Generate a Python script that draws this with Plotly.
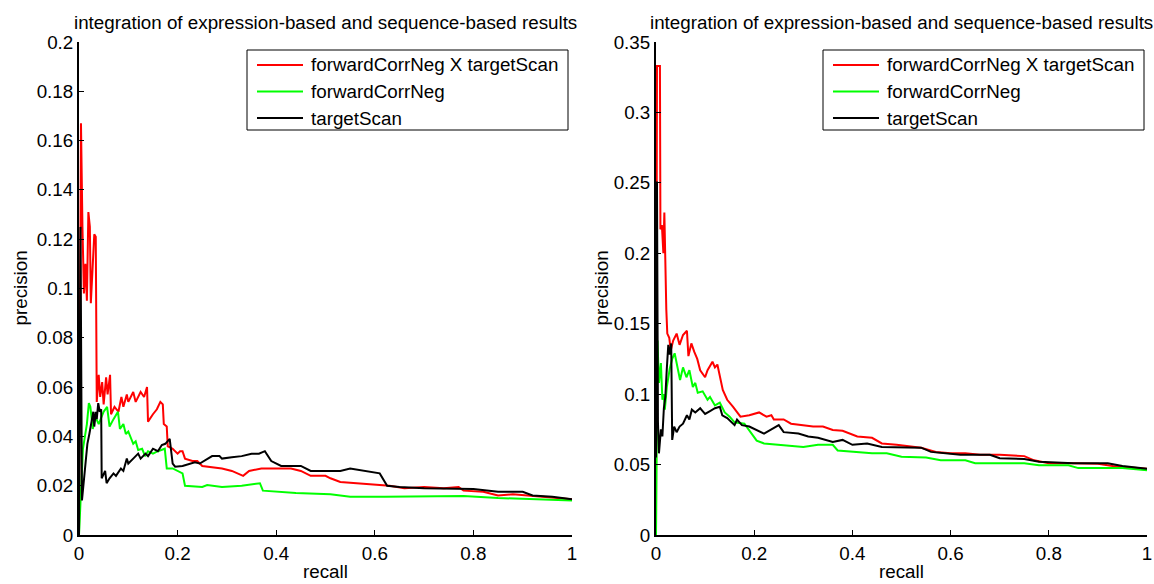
import plotly.graph_objects as go

# ---------------- left panel: precision vs recall ----------------
left_red_recall = [0, 0.004, 0.007, 0.010, 0.013, 0.016, 0.019, 0.022, 0.024, 0.028, 0.031, 0.034,
                   0.036, 0.040, 0.043, 0.047, 0.050, 0.055, 0.058, 0.063, 0.065, 0.072, 0.080, 0.086,
                   0.090, 0.097, 0.100, 0.110, 0.115, 0.125, 0.132, 0.138, 0.140, 0.150, 0.158, 0.165,
                   0.170, 0.172, 0.178, 0.180, 0.190, 0.200, 0.205, 0.210, 0.215, 0.230, 0.240, 0.250,
                   0.270, 0.290, 0.310, 0.333, 0.345, 0.370, 0.400, 0.430, 0.450, 0.470, 0.500, 0.510,
                   0.530, 0.570, 0.600, 0.630, 0.660, 0.700, 0.740, 0.770, 0.780, 0.820, 0.850, 0.880,
                   0.910, 0.940, 0.970, 1.0]
left_red_precision = [0, 0.167, 0.125, 0.098, 0.110, 0.095, 0.131, 0.125, 0.094, 0.108, 0.122, 0.121,
                      0.054, 0.065, 0.056, 0.062, 0.053, 0.064, 0.057, 0.065, 0.049, 0.052, 0.050, 0.056,
                      0.052, 0.057, 0.054, 0.058, 0.054, 0.058, 0.056, 0.060, 0.046, 0.049, 0.051, 0.054,
                      0.053, 0.045, 0.044, 0.036, 0.035, 0.033, 0.034, 0.034, 0.031, 0.030, 0.030, 0.028,
                      0.0275, 0.027, 0.026, 0.024, 0.026, 0.027, 0.027, 0.027, 0.026, 0.024, 0.024, 0.023,
                      0.0215, 0.021, 0.0205, 0.020, 0.019, 0.0195, 0.019, 0.0195, 0.018, 0.0175, 0.016, 0.0165,
                      0.016, 0.0155, 0.015, 0.0145]

left_green_recall = [0, 0.004, 0.008, 0.012, 0.016, 0.020, 0.023, 0.028, 0.033, 0.040, 0.050, 0.057,
                     0.062, 0.070, 0.079, 0.083, 0.090, 0.095, 0.100, 0.110, 0.115, 0.120, 0.128, 0.134,
                     0.140, 0.150, 0.160, 0.174, 0.178, 0.190, 0.210, 0.215, 0.250, 0.260, 0.290, 0.330,
                     0.367, 0.373, 0.440, 0.510, 0.550, 0.620, 0.700, 0.780, 0.850, 0.920, 1.0]
left_green_precision = [0, 0.020, 0.035, 0.040, 0.045, 0.0535, 0.052, 0.043, 0.048, 0.045, 0.050, 0.052,
                        0.044, 0.047, 0.050, 0.043, 0.045, 0.041, 0.042, 0.037, 0.038, 0.0345, 0.035, 0.032,
                        0.034, 0.033, 0.034, 0.035, 0.027, 0.027, 0.025, 0.020, 0.0195, 0.0203, 0.0195, 0.020,
                        0.021, 0.018, 0.017, 0.0165, 0.0155, 0.0155, 0.0155, 0.0158, 0.015, 0.0145, 0.014]

left_black_recall = [0, 0.003, 0.006, 0.009, 0.013, 0.017, 0.021, 0.025, 0.029, 0.031, 0.034, 0.036,
                     0.039, 0.042, 0.045, 0.046, 0.050, 0.053, 0.056, 0.062, 0.070, 0.075, 0.085, 0.090,
                     0.097, 0.100, 0.110, 0.120, 0.125, 0.135, 0.140, 0.150, 0.160, 0.168, 0.175, 0.184,
                     0.190, 0.195, 0.210, 0.220, 0.235, 0.245, 0.260, 0.270, 0.285, 0.290, 0.310, 0.330,
                     0.350, 0.365, 0.377, 0.390, 0.410, 0.450, 0.470, 0.530, 0.550, 0.580, 0.610, 0.625,
                     0.650, 0.700, 0.750, 0.800, 0.850, 0.900, 0.920, 0.960, 1.0]
left_black_precision = [0, 0.125, 0.014, 0.020, 0.030, 0.037, 0.041, 0.046, 0.050, 0.044, 0.050, 0.047,
                        0.0535, 0.050, 0.051, 0.023, 0.025, 0.026, 0.021, 0.023, 0.025, 0.024, 0.027, 0.026,
                        0.031, 0.029, 0.031, 0.033, 0.031, 0.033, 0.032, 0.035, 0.034, 0.0365, 0.037, 0.039,
                        0.029, 0.0277, 0.028, 0.0285, 0.0295, 0.029, 0.031, 0.032, 0.032, 0.031, 0.0315, 0.032,
                        0.033, 0.033, 0.034, 0.030, 0.028, 0.028, 0.026, 0.026, 0.027, 0.026, 0.025, 0.020,
                        0.0195, 0.019, 0.0188, 0.0187, 0.0175, 0.0175, 0.016, 0.0155, 0.0145]

# ---------------- right panel: precision vs recall ----------------
right_red_recall = [0, 0.002, 0.008, 0.009, 0.012, 0.015, 0.017, 0.019, 0.021, 0.023, 0.027, 0.030,
                    0.035, 0.042, 0.048, 0.055, 0.063, 0.066, 0.072, 0.078, 0.084, 0.090, 0.095, 0.100,
                    0.105, 0.115, 0.120, 0.125, 0.136, 0.145, 0.157, 0.165, 0.172, 0.190, 0.210, 0.225,
                    0.235, 0.240, 0.260, 0.275, 0.300, 0.320, 0.340, 0.360, 0.380, 0.410, 0.440, 0.460,
                    0.490, 0.510, 0.540, 0.570, 0.600, 0.630, 0.660, 0.700, 0.750, 0.770, 0.800, 0.850,
                    0.900, 0.930, 0.960, 1.0]
right_red_precision = [0, 0.333, 0.333, 0.217, 0.220, 0.200, 0.229, 0.180, 0.160, 0.143, 0.140, 0.131,
                       0.138, 0.143, 0.135, 0.142, 0.145, 0.127, 0.136, 0.130, 0.125, 0.117, 0.114, 0.112,
                       0.117, 0.123, 0.119, 0.121, 0.103, 0.096, 0.091, 0.087, 0.084, 0.085, 0.087, 0.084,
                       0.085, 0.082, 0.082, 0.079, 0.078, 0.077, 0.077, 0.0745, 0.074, 0.070, 0.069, 0.065,
                       0.064, 0.063, 0.062, 0.059, 0.058, 0.058, 0.057, 0.057, 0.056, 0.053, 0.051, 0.051,
                       0.0505, 0.049, 0.048, 0.047]

right_green_recall = [0, 0.003, 0.006, 0.010, 0.013, 0.016, 0.018, 0.022, 0.028, 0.033, 0.038, 0.042,
                      0.049, 0.055, 0.062, 0.068, 0.075, 0.080, 0.085, 0.095, 0.105, 0.110, 0.120, 0.130,
                      0.140, 0.150, 0.160, 0.180, 0.190, 0.205, 0.220, 0.250, 0.300, 0.330, 0.360, 0.370,
                      0.400, 0.440, 0.470, 0.500, 0.550, 0.580, 0.630, 0.650, 0.700, 0.750, 0.780, 0.840,
                      0.860, 0.950, 1.0]
right_green_precision = [0, 0.138, 0.108, 0.122, 0.096, 0.100, 0.089, 0.105, 0.118, 0.125, 0.129, 0.122,
                         0.110, 0.119, 0.112, 0.117, 0.105, 0.108, 0.101, 0.102, 0.096, 0.098, 0.092, 0.094,
                         0.087, 0.084, 0.080, 0.079, 0.074, 0.067, 0.065, 0.064, 0.0625, 0.064, 0.064, 0.060,
                         0.059, 0.058, 0.058, 0.0555, 0.055, 0.053, 0.053, 0.051, 0.051, 0.051, 0.0495, 0.0495,
                         0.0475, 0.0475, 0.046]

right_black_recall = [0, 0.002, 0.004, 0.006, 0.010, 0.013, 0.016, 0.019, 0.022, 0.025, 0.028, 0.031,
                      0.033, 0.037, 0.042, 0.048, 0.055, 0.063, 0.068, 0.073, 0.080, 0.090, 0.095, 0.100,
                      0.110, 0.120, 0.130, 0.135, 0.145, 0.160, 0.165, 0.175, 0.190, 0.205, 0.220, 0.235,
                      0.250, 0.260, 0.290, 0.310, 0.330, 0.360, 0.380, 0.400, 0.430, 0.460, 0.500, 0.540,
                      0.560, 0.600, 0.620, 0.680, 0.700, 0.750, 0.780, 0.850, 0.920, 0.950, 1.0]
right_black_precision = [0.055, 0.251, 0.080, 0.058, 0.075, 0.070, 0.090, 0.098, 0.118, 0.135, 0.128, 0.136,
                         0.0675, 0.077, 0.073, 0.077, 0.079, 0.085, 0.082, 0.089, 0.087, 0.090, 0.088, 0.086,
                         0.088, 0.090, 0.091, 0.085, 0.083, 0.078, 0.082, 0.078, 0.077, 0.0745, 0.072, 0.075,
                         0.078, 0.073, 0.072, 0.070, 0.069, 0.066, 0.0675, 0.064, 0.065, 0.0625, 0.062, 0.062,
                         0.059, 0.058, 0.057, 0.057, 0.0545, 0.054, 0.052, 0.051, 0.051, 0.049, 0.047]

series_names = ["forwardCorrNeg X targetScan", "forwardCorrNeg", "targetScan"]
series_colors = ["#ff0000", "#00ff00", "#000000"]

x_ticks = [0, 0.2, 0.4, 0.6, 0.8, 1.0]
x_tick_text = ["0", "0.2", "0.4", "0.6", "0.8", "1"]
left_y_ticks = [0, 0.02, 0.04, 0.06, 0.08, 0.10, 0.12, 0.14, 0.16, 0.18, 0.20]
left_y_tick_text = ["0", "0.02", "0.04", "0.06", "0.08", "0.1", "0.12", "0.14", "0.16", "0.18", "0.2"]
right_y_ticks = [0, 0.05, 0.10, 0.15, 0.20, 0.25, 0.30, 0.35]
right_y_tick_text = ["0", "0.05", "0.1", "0.15", "0.2", "0.25", "0.3", "0.35"]

panel_title = "integration of expression-based and sequence-based results"

W, H = 1154, 584
FONT = "Arial, 'Liberation Sans', sans-serif"
FS = 18.8

# plot-area pixel boxes
L_X0, L_X1 = 79, 572
R_X0, R_X1 = 656, 1147
Y_TOP, Y_BOT = 42, 535


def px(x):
    return x / W


def py(y):
    return (H - y) / H


fig = go.Figure()

left_data = [(left_red_recall, left_red_precision),
             (left_green_recall, left_green_precision),
             (left_black_recall, left_black_precision)]
right_data = [(right_red_recall, right_red_precision),
              (right_green_recall, right_green_precision),
              (right_black_recall, right_black_precision)]

for (xs, ys), name, color in zip(left_data, series_names, series_colors):
    fig.add_trace(go.Scatter(x=xs, y=ys, mode="lines", name=name, showlegend=False,
                             line=dict(color=color, width=2), xaxis="x", yaxis="y"))
for (xs, ys), name, color in zip(right_data, series_names, series_colors):
    fig.add_trace(go.Scatter(x=xs, y=ys, mode="lines", name=name, showlegend=False,
                             line=dict(color=color, width=2), xaxis="x2", yaxis="y2"))

axis_common = dict(showline=True, linecolor="black", linewidth=2, mirror=False,
                   ticks="inside", ticklen=5, tickwidth=1.2, tickcolor="black",
                   showgrid=False, zeroline=False, automargin=False,
                   tickfont=dict(family=FONT, size=FS, color="black"))

ydom = [py(Y_BOT), py(Y_TOP)]

fig.update_layout(
    width=W, height=H, autosize=False,
    margin=dict(l=0, r=0, t=0, b=0, autoexpand=False),
    paper_bgcolor="white", plot_bgcolor="white",
    font=dict(family=FONT, size=FS, color="black"),
    showlegend=False,
    xaxis=dict(domain=[px(L_X0), px(L_X1)], range=[0, 1], anchor="y",
               tickvals=x_ticks, ticktext=x_tick_text, **axis_common),
    yaxis=dict(domain=ydom, range=[0, 0.2], anchor="x",
               tickvals=left_y_ticks, ticktext=left_y_tick_text, **axis_common),
    xaxis2=dict(domain=[px(R_X0), px(R_X1)], range=[0, 1], anchor="y2",
                tickvals=x_ticks, ticktext=x_tick_text, **axis_common),
    yaxis2=dict(domain=ydom, range=[0, 0.35], anchor="x2",
                tickvals=right_y_ticks, ticktext=right_y_tick_text, **axis_common),
)

annotations = []
shapes = []
txt_font = dict(family=FONT, size=FS, color="black")

for x0, x1, ylab_x, box_x0, box_x1 in [(L_X0, L_X1, 20, 247, 568),
                                       (R_X0, R_X1, 601, 823, 1144)]:
    cx = px((x0 + x1) / 2)
    annotations.append(dict(text=panel_title, x=cx, y=py(22), xref="paper", yref="paper",
                            xanchor="center", yanchor="middle", showarrow=False, font=txt_font))
    annotations.append(dict(text="recall", x=cx, y=py(571), xref="paper", yref="paper",
                            xanchor="center", yanchor="middle", showarrow=False, font=txt_font))
    annotations.append(dict(text="precision", x=px(ylab_x), y=py((Y_TOP + Y_BOT) / 2),
                            xref="paper", yref="paper", xanchor="center", yanchor="middle",
                            textangle=-90, showarrow=False, font=txt_font))

    # legend box with a line sample and label per series
    shapes.append(dict(type="rect", xref="paper", yref="paper",
                       x0=px(box_x0), x1=px(box_x1), y0=py(130), y1=py(50),
                       line=dict(color="black", width=1), fillcolor="white", layer="above"))
    for i, (name, color) in enumerate(zip(series_names, series_colors)):
        row_y = 65 + i * 26.5
        shapes.append(dict(type="line", xref="paper", yref="paper",
                           x0=px(box_x0 + 10), x1=px(box_x0 + 56), y0=py(row_y), y1=py(row_y),
                           line=dict(color=color, width=2), layer="above"))
        annotations.append(dict(text=name, x=px(box_x0 + 62), y=py(row_y), xref="paper", yref="paper",
                                xanchor="left", yanchor="middle", showarrow=False, font=txt_font))

fig.update_layout(annotations=annotations, shapes=shapes)

fig.write_html("out.html")
